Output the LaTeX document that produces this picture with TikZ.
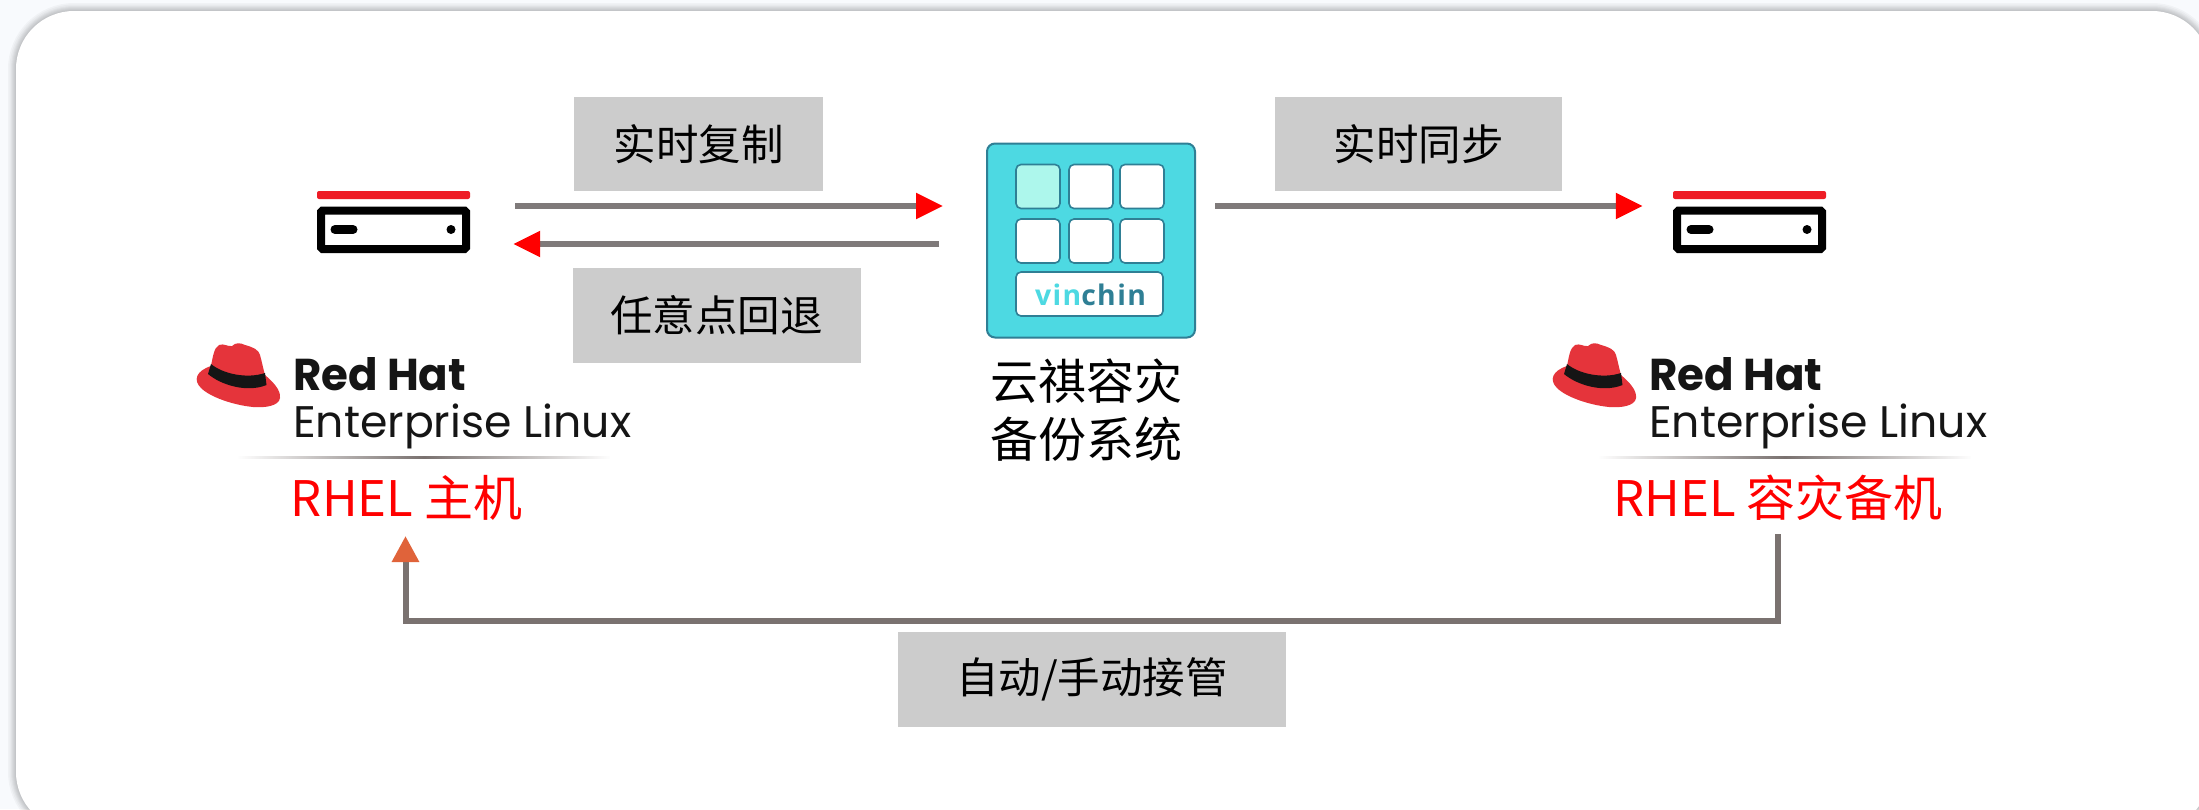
\documentclass[tikz,border=0pt]{standalone}
\usepackage{fontspec}
\usepackage{graphicx}
\setmainfont{Noto Sans CJK SC}
\newfontfamily\logofont{Poppins}
\newfontfamily\vinfont[LetterSpace=5]{Open Sans}
\usetikzlibrary{arrows.meta,calc,fadings}
\definecolor{pagebg}{HTML}{F8FAFD}
\definecolor{lbl}{HTML}{CCCCCC}
\definecolor{conn}{HTML}{7F7A7A}
\definecolor{connb}{HTML}{7A7270}
\definecolor{tealf}{HTML}{4DD9E2}
\definecolor{teald}{HTML}{2F7F95}
\definecolor{mint}{HTML}{ADF7EC}
\definecolor{hatred}{HTML}{E5343B}
\definecolor{barred}{HTML}{EE1C25}
\definecolor{orangeh}{HTML}{E0633A}
\definecolor{ink}{HTML}{151515}
\tikzfading[name=midfade,left color=transparent!100,right color=transparent!100,middle color=transparent!0]
\newcommand{\lbltext}[1]{\raisebox{-2pt}{#1}}
\tikzset{
 x=1pt,y=-1pt,
 labelbox/.style={fill=lbl,inner sep=0pt,font=\fontsize{42.5}{50}\selectfont,text=black},
 flow/.style={draw=conn,line width=5.5pt,-{Triangle[length=27pt,width=25pt,color=red]}},
 takeover/.style={draw=connb,line width=6pt,line join=miter,-{Triangle[length=26pt,width=26pt,color=orangeh]}},
 caption/.style={font=\fontsize{49}{56}\selectfont,text=red,inner sep=0pt},
 tile/.style={draw=teald,line width=1.6pt,rounded corners=5pt,fill=white,inner sep=0pt},
 sysname/.style={font=\fontsize{48}{56}\selectfont,inner sep=0pt,text=black},
 pics/serverbox/.style={code={
   \fill[barred,rounded corners=2pt] (0,0) rectangle (153,8);
   \draw[black,line width=8pt,rounded corners=1.5pt] (4,19.5) rectangle (149,58);
   \draw[black,line width=9pt,line cap=round] (18,38.5) -- (36,38.5);
   \fill[black] (134,38.5) circle (4.5pt);
 }},
 pics/hatlogo/.style={code={
   \fill[hatred] (16,24) .. controls (18,14) and (19,6) .. (24,3) .. controls (29,1) and (33,5) .. (37,4)
     .. controls (41,0) and (46,1) .. (50,3) .. controls (58,5) and (64,8) .. (65,13)
     .. controls (67,20) and (68,26) .. (70,33) .. controls (78,40) and (86,48) .. (85,56)
     .. controls (84,64) and (70,66) .. (58,65) .. controls (38,63) and (15,55) .. (6,46)
     .. controls (-2,38) and (1,29) .. (16,24) -- cycle;
   \fill[ink] (16,22) .. controls (28,32) and (52,37) .. (70,31) -- (71.5,43)
     .. controls (52,51) and (26,43) .. (13,32) -- cycle;
 }},
 pics/rhelwords/.style={code={
   \node[anchor=base west,inner sep=0pt,text=ink] (-rh) at (0,0) {\resizebox{173pt}{33pt}{\logofont\bfseries Red Hat}};
   \node[anchor=base west,inner sep=0pt,text=ink] (-el) at (0,47) {\resizebox{338pt}{!}{\logofont Enterprise Linux}};
 }},
}
\begin{document}
\begin{tikzpicture}
\useasboundingbox (0,0) rectangle (2199,809);
\clip (0,0) rectangle (2199,809);
\fill[pagebg] (0,0) rectangle (2199,809);
% card with soft shadow
\foreach \w in {16,13,10,8,6,4,2}
  \draw[black,opacity=0.03,line width=\w pt,rounded corners=58pt] (16,11) rectangle (2210,830);
\fill[white,rounded corners=58pt] (16,11) rectangle (2210,830);

% servers
\pic at (317,191) {serverbox};
\pic at (1673,191) {serverbox};
\node[minimum width=153pt,minimum height=61pt,inner sep=0pt] (srvA) at (393.5,221.5) {};
\node[minimum width=153pt,minimum height=61pt,inner sep=0pt] (srvB) at (1749.5,221.5) {};

% vinchin icon
\node[draw=teald,fill=tealf,line width=2pt,rounded corners=8pt,minimum width=208pt,minimum height=194pt,inner sep=0pt] (vin) at (1091,240.5) {};
\node[tile,fill=mint,minimum width=44pt,minimum height=44pt] (t1) at (1038,186.5) {};
\node[tile,minimum width=44pt,minimum height=44pt] (t2) at (1091,186.5) {};
\node[tile,minimum width=44pt,minimum height=44pt] (t3) at (1142,186.5) {};
\node[tile,minimum width=44pt,minimum height=44pt] (t4) at (1038,241) {};
\node[tile,minimum width=44pt,minimum height=44pt] (t5) at (1091,241) {};
\node[tile,minimum width=44pt,minimum height=44pt] (t6) at (1142,241) {};
\node[tile,minimum width=147pt,minimum height=44pt] (t7) at (1089.5,294) {};
\node[anchor=base,inner sep=0pt] (vname) at (1090.5,305) {\resizebox{111pt}{!}{\vinfont\bfseries\textcolor{tealf}{vin}\textcolor{teald}{chin}}};
\node[sysname,anchor=center] (sys1) at (1086,381.5) {云祺容灾};
\node[sysname,anchor=center] (sys2) at (1086,439.5) {备份系统};

% logos
\pic at (195,342) {hatlogo};
\pic (wa) at (293,390) {rhelwords};
\pic at (1551,342) {hatlogo};
\pic (wb) at (1649,390) {rhelwords};
\fill[connb,path fading=midfade] (238,455.5) rectangle (610,458.5);
\fill[connb,path fading=midfade] (1599,455.5) rectangle (1971,458.5);
\node[caption] (rhA) at (406.5,498) {RHEL 主机};
\node[caption] (rhB) at (1778,498) {RHEL 容灾备机};

% label boxes
\node[labelbox,minimum width=249pt,minimum height=94pt] (l1) at (698.5,144) {\lbltext{实时复制}};
\node[labelbox,minimum width=288pt,minimum height=95pt] (l2) at (716.5,315.5) {\lbltext{任意点回退}};
\node[labelbox,minimum width=287pt,minimum height=94pt] (l3) at (1418.5,144) {\lbltext{实时同步}};
\node[labelbox,minimum width=388pt,minimum height=95pt] (l4) at (1092,679) {\lbltext{自动/手动接管}};

% connectors
\coordinate (a1s) at ($(srvA.east)+(45,-15.5)$);
\coordinate (a1e) at ($(vin.west)+(-43,-34.5)$);
\coordinate (a2s) at ($(vin.west)+(-47,3.5)$);
\coordinate (a2e) at ($(srvA.east)+(43,22.5)$);
\coordinate (a3s) at ($(vin.east)+(19,-34.5)$);
\coordinate (a3e) at ($(srvB.west)+(-30,-15.5)$);
\draw[flow] (a1s) -- (a1e);
\draw[flow] (a2s) -- (a2e);
\draw[flow] (a3s) -- (a3e);
\coordinate (b1) at ($(rhB.center)+(0,36)$);
\coordinate (b2) at ($(rhA.center)+(-1,38)$);
\draw[takeover] (b1) -- (b1 |- 0,621) -- (b2 |- 0,621) -- (b2);
\end{tikzpicture}
\end{document}
